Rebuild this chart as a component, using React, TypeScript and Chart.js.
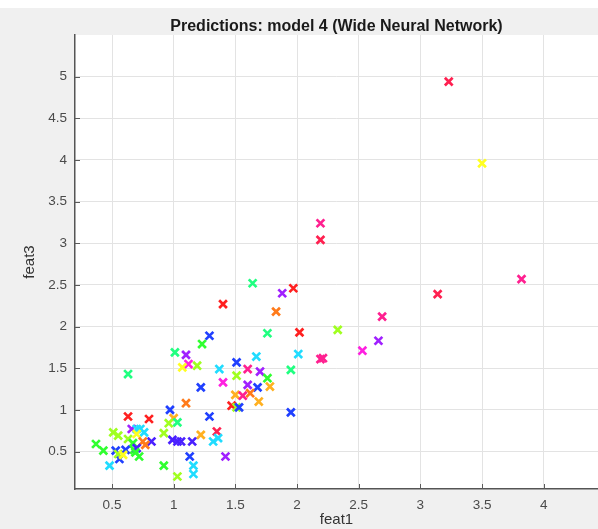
import { useEffect, useRef } from 'react';
import { Chart, registerables } from 'chart.js';

Chart.register(...registerables);

const chartTitle = 'Predictions: model 4 (Wide Neural Network)';
const xAxisTitle = 'feat1';
const yAxisTitle = 'feat3';

const xTickValues = [0.5, 1, 1.5, 2, 2.5, 3, 3.5, 4];
const yTickValues = [0.5, 1, 1.5, 2, 2.5, 3, 3.5, 4, 4.5, 5];

const feat1 = [
  3.23, 3.50, 3.82, 3.14, 2.19, 2.19, 1.97, 1.88, 1.83, 2.69,
  1.76, 2.02, 2.33, 2.01, 2.66, 2.53, 2.19, 2.21, 1.95, 1.64,
  1.40, 1.29, 1.23, 1.01, 1.10, 1.12, 1.07, 1.19, 0.63, 1.37,
  1.51, 1.67, 1.60, 1.70, 1.76, 1.51, 1.40, 1.22, 1.60, 1.68,
  1.78, 1.50, 1.56, 1.62, 1.69, 1.10, 1.47, 1.51, 1.53, 0.97,
  1.95, 1.29, 0.63, 0.80, 1.00, 0.96, 1.03, 0.92, 1.22, 1.35,
  1.32, 1.36, 0.99, 1.03, 1.06, 1.15, 0.82, 1.13, 1.42, 0.37,
  0.43, 0.48, 0.51, 0.55, 0.53, 0.56, 0.55, 0.63, 0.66, 0.70,
  0.73, 0.76, 0.70, 0.67, 0.75, 0.77, 0.68, 0.70, 0.61, 0.59,
  0.72, 0.69, 0.92, 1.03, 1.16, 1.16,
];

const feat3 = [
  4.94, 3.96, 2.57, 2.39, 3.24, 3.04, 2.46, 2.40, 2.18, 2.12,
  1.92, 1.93, 1.96, 1.67, 1.83, 1.71, 1.61, 1.62, 1.48, 2.52,
  2.27, 1.89, 1.79, 1.69, 1.66, 1.55, 1.51, 1.53, 1.43, 1.49,
  1.57, 1.64, 1.49, 1.46, 1.38, 1.41, 1.33, 1.27, 1.30, 1.27,
  1.28, 1.18, 1.17, 1.20, 1.10, 1.08, 1.05, 1.03, 1.03, 1.00,
  0.97, 0.92, 0.92, 0.89, 0.90, 0.84, 0.85, 0.72, 0.70, 0.74,
  0.62, 0.66, 0.64, 0.62, 0.62, 0.62, 0.62, 0.44, 0.44, 0.59,
  0.51, 0.33, 0.73, 0.69, 0.51, 0.41, 0.47, 0.65, 0.77, 0.77,
  0.77, 0.73, 0.71, 0.60, 0.62, 0.58, 0.52, 0.54, 0.52, 0.46,
  0.44, 0.49, 0.33, 0.20, 0.33, 0.23,
];

const predictedClass = [
  13, 3, 12, 13, 12, 13, 0, 10, 1, 12,
  6, 0, 4, 7, 10, 11, 12, 12, 6, 6,
  0, 8, 5, 6, 10, 11, 3, 4, 6, 7,
  8, 7, 12, 10, 5, 4, 11, 8, 10, 8,
  2, 2, 12, 1, 2, 1, 0, 4, 8, 8,
  8, 8, 0, 0, 2, 4, 6, 4, 2, 13,
  7, 7, 9, 9, 9, 9, 9, 8, 10, 5,
  5, 7, 4, 4, 8, 8, 4, 4, 10, 7,
  7, 7, 3, 5, 1, 1, 5, 9, 8, 3,
  5, 5, 5, 4, 7, 7,
];

const classColors = [
  '#ff2020', '#ff7a1a', '#ffb020', '#ffff20', '#a0ff20', '#30ff30', '#20ff80',
  '#20dcff', '#2040ff', '#4a20ff', '#a020ff', '#ff20e0', '#ff2090', '#ff2050',
];

const FONT = "'Liberation Sans', Arial, Helvetica, sans-serif";

const backgroundPlugin = {
  id: 'figureBackground',
  beforeDraw(chart: any) {
    const { ctx, width, height, chartArea } = chart;
    ctx.save();
    ctx.fillStyle = '#f0f0f0';
    ctx.fillRect(0, 0, width, height);
    ctx.fillStyle = '#ffffff';
    ctx.fillRect(0, 0, width, 8);
    ctx.fillRect(chartArea.left, chartArea.top, chartArea.right - chartArea.left, chartArea.bottom - chartArea.top);
    ctx.restore();
  },
};

const inwardTicksPlugin = {
  id: 'inwardTicks',
  afterDatasetsDraw(chart: any) {
    const { ctx, chartArea, scales } = chart;
    ctx.save();
    ctx.strokeStyle = '#5a5a5a';
    ctx.lineWidth = 1;
    ctx.beginPath();
    for (const v of xTickValues) {
      const px = Math.round(scales.x.getPixelForValue(v)) + 0.5;
      ctx.moveTo(px, chartArea.bottom);
      ctx.lineTo(px, chartArea.bottom - 5);
    }
    for (const v of yTickValues) {
      const py = Math.round(scales.y.getPixelForValue(v)) + 0.5;
      ctx.moveTo(chartArea.left, py);
      ctx.lineTo(chartArea.left + 5, py);
    }
    ctx.stroke();
    ctx.restore();
  },
};

export default function App() {
  const canvasRef = useRef<HTMLCanvasElement | null>(null);

  useEffect(() => {
    if (!canvasRef.current) return;
    const points = feat1.map((x, i) => ({ x, y: feat3[i] }));
    const colors = predictedClass.map((c) => classColors[c]);
    const chart = new Chart(canvasRef.current, {
      type: 'scatter',
      data: {
        datasets: [
          {
            label: 'Predictions',
            data: points,
            pointStyle: 'crossRot',
            pointRadius: 5.5,
            pointBorderWidth: 2.7,
            pointBorderColor: colors,
            pointBackgroundColor: colors,
            pointHoverRadius: 5.5,
          },
        ],
      },
      options: {
        animation: false,
        responsive: false,
        layout: { autoPadding: false, padding: { top: 0, left: 0, right: 0, bottom: 0 } },
        plugins: {
          legend: { display: false },
          tooltip: { enabled: false },
          title: {
            display: true,
            text: chartTitle,
            fullSize: false,
            color: '#1a1a1a',
            font: { family: FONT, size: 16, weight: 'bold', lineHeight: 1 },
            padding: { top: 19, bottom: 0 },
          },
        },
        scales: {
          x: {
            type: 'linear',
            min: 0.2,
            max: 4.44,
            afterFit: (scale: any) => {
              scale.height = 40;
            },
            afterBuildTicks: (scale: any) => {
              scale.ticks = xTickValues.map((value) => ({ value }));
            },
            grid: { color: '#e3e3e3', lineWidth: 1, drawTicks: false },
            border: { display: true, color: '#555555', width: 1.5 },
            ticks: {
              padding: 8,
              color: '#4a4a4a',
              font: { family: FONT, size: 13.5 },
              callback: (v: any) => String(v),
              maxRotation: 0,
            },
            title: {
              display: true,
              text: xAxisTitle,
              color: '#333333',
              font: { family: FONT, size: 15 },
              padding: { top: -2, bottom: 0 },
            },
          },
          y: {
            type: 'linear',
            min: 0.05,
            max: 5.5,
            afterFit: (scale: any) => {
              scale.width = 75;
            },
            afterBuildTicks: (scale: any) => {
              scale.ticks = yTickValues.map((value) => ({ value }));
            },
            grid: { color: '#e3e3e3', lineWidth: 1, drawTicks: false },
            border: { display: true, color: '#555555', width: 1.5 },
            ticks: {
              padding: 8,
              color: '#4a4a4a',
              font: { family: FONT, size: 13.5 },
              callback: (v: any) => String(v),
            },
            title: {
              display: true,
              text: yAxisTitle,
              color: '#333333',
              font: { family: FONT, size: 15 },
              padding: { top: 21, bottom: 0 },
            },
          },
        },
      },
      plugins: [backgroundPlugin, inwardTicksPlugin],
    });
    return () => chart.destroy();
  }, []);

  return (
    <div style={{ position: 'fixed', left: 0, top: 0, width: 598, height: 529 }}>
      <canvas ref={canvasRef} width={598} height={529} />
    </div>
  );
}
